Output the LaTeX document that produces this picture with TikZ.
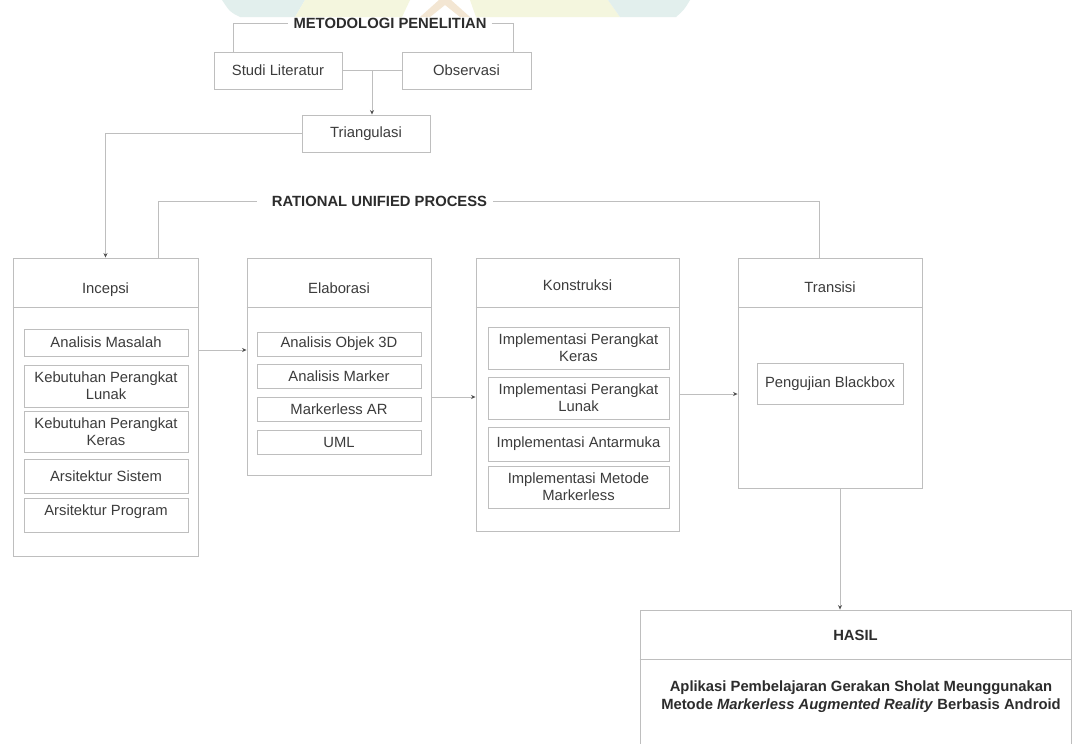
\documentclass[tikz,border=0pt]{standalone}
\usepackage{fontspec}
\setmainfont{Liberation Sans}
\usetikzlibrary{arrows.meta}
\definecolor{ln}{HTML}{BEBEBE}
\definecolor{tx}{HTML}{3C3C3C}
\definecolor{tb}{HTML}{2C2C2C}
\definecolor{arrowc}{HTML}{505050}
\definecolor{wmteal}{HTML}{E2EFED}
\definecolor{wmyel}{HTML}{F4F6DE}
\definecolor{wmora}{HTML}{F3E6D3}
\newcommand\fsz{\fontsize{14.8pt}{16.7pt}\selectfont}
\newcommand\fszb{\fontsize{14.8pt}{17.8pt}\selectfont}
\begin{document}
\begin{tikzpicture}[x=1pt,y=-1pt,
  frame/.style={draw=ln,line width=0.9pt,inner sep=0pt},
  subbox/.style={frame,font=\fsz,text=tx,align=center},
  ttl/.style={font=\fsz,text=tx,inner sep=0pt,text height=10.6pt,text depth=3pt},
  hdr/.style={font=\fsz\bfseries,text=tb,inner sep=0pt},
  conn/.style={draw=ln,line width=0.9pt},
  arrw/.style={conn,-{Stealth[length=4.5pt,width=4pt,color=arrowc]}},
]
\useasboundingbox (0,0) rectangle (1074,744);
\clip (0,0) rectangle (1074,744);
\fill[white] (0,0) rectangle (1074,744);

% faint watermark strip at the top
\begin{scope}
\clip (0,0) rectangle (1074,17);
\fill[wmteal] (222,0) -- (305,0) -- (295,17) -- (240,17) .. controls (230,12) .. (222,0) -- cycle;
\fill[wmyel] (305,0) -- (410,0) -- (402,17) -- (295,17) -- cycle;
\fill[wmora] (420,17) -- (439,0) -- (451,0) -- (470,17) -- (460,17) -- (445,5) -- (430,17) -- cycle;
\fill[wmyel] (470,0) -- (608,0) -- (620,17) -- (476,17) -- cycle;
\fill[wmteal] (608,0) -- (690,0) .. controls (684,10) .. (676,17) -- (620,17) -- cycle;
\end{scope}

% ---------- Metodologi penelitian ----------
\node[hdr] (metod) at (390,23) {METODOLOGI PENELITIAN};
\node[subbox,minimum width=128,minimum height=37] (studi) at (278,70.5) {Studi Literatur};
\node[subbox,minimum width=129,minimum height=37] (obs) at (466.5,70.5) {Observasi};
\node[subbox,minimum width=128,minimum height=37] (tri) at (366,133.5) {Triangulasi};

\coordinate (mL) at (233,23);
\coordinate (mR) at (513,23);
\draw[conn] (studi.north -| mL) -- (mL) -- ([xshift=-5pt]metod.west);
\draw[conn] ([xshift=5pt]metod.east) -- (mR) -- (obs.north -| mR);
\draw[conn] (studi.east) -- (obs.west);
\coordinate (j1) at (372,70.5);
\draw[arrw] (j1) -- (j1 |- tri.north);

% ---------- RUP phases ----------
\node[frame,minimum width=185,minimum height=298] (incepsi) at (105.5,407) {};
\node[frame,minimum width=184,minimum height=217] (elab) at (339,366.5) {};
\node[frame,minimum width=203,minimum height=273] (kons) at (577.5,394.5) {};
\node[frame,minimum width=184,minimum height=230] (trans) at (830,373) {};

\coordinate (hd) at (0,307);
\foreach \b in {incepsi,elab,kons,trans}
  \draw[conn] (\b.west |- hd) -- (\b.east |- hd);

\node[ttl] (incepsiT) at (105.5,289.5) {Incepsi};
\node[ttl] (elabT) at (339,289.5) {Elaborasi};
\node[ttl] (konsT) at (577.5,286.5) {Konstruksi};
\node[ttl] (transT) at (830,289) {Transisi};

% Incepsi items
\node[subbox,minimum width=164,minimum height=27] (i1) at (106,342.5) {Analisis Masalah};
\node[subbox,minimum width=164,minimum height=42] (i2) at (106,386) {Kebutuhan Perangkat\\Lunak};
\node[subbox,minimum width=164,minimum height=41] (i3) at (106,431.5) {Kebutuhan Perangkat\\Keras};
\node[subbox,minimum width=164,minimum height=34] (i4) at (106,476) {Arsitektur Sistem};
\node[subbox,minimum width=164,minimum height=34,text height=10.5pt,text depth=10pt] (i5) at (106,515) {Arsitektur Program};

% Elaborasi items
\node[subbox,minimum width=164,minimum height=24] (e1) at (339,344) {Analisis Objek 3D};
\node[subbox,minimum width=164,minimum height=24] (e2) at (339,376) {Analisis Marker};
\node[subbox,minimum width=164,minimum height=24] (e3) at (339,409) {Markerless AR};
\node[subbox,minimum width=164,minimum height=24] (e4) at (339,442) {UML};

% Konstruksi items
\node[subbox,minimum width=181,minimum height=42] (k1) at (578.5,348) {Implementasi Perangkat\\Keras};
\node[subbox,minimum width=181,minimum height=42] (k2) at (578.5,398) {Implementasi Perangkat\\Lunak};
\node[subbox,minimum width=181,minimum height=34] (k3) at (578.5,444) {Implementasi Antarmuka};
\node[subbox,minimum width=181,minimum height=42] (k4) at (578.5,487) {Implementasi Metode\\Markerless};

% Transisi item
\node[subbox,minimum width=146,minimum height=41] (t1) at (830,383.5) {Pengujian Blackbox};

% Triangulasi -> Incepsi
\draw[arrw] (tri.west) -| (incepsi.north);

% RUP bracket
\node[hdr] (rup) at (379.5,201) {RATIONAL UNIFIED PROCESS};
\coordinate (rA) at (158,201);
\coordinate (rB) at (257,201);
\coordinate (rC) at (493,201);
\coordinate (rD) at (819,201);
\draw[conn] (incepsi.north -| rA) -- (rA) -- (rB);
\draw[conn] (rC) -- (rD) -- (trans.north -| rD);

% phase arrows
\coordinate (y1) at (0,350);
\coordinate (y2) at (0,397);
\coordinate (y3) at (0,394);
\draw[arrw] (incepsi.east |- y1) -- (elab.west |- y1);
\draw[arrw] (elab.east |- y2) -- (kons.west |- y2);
\draw[arrw] (kons.east |- y3) -- (trans.west |- y3);

% ---------- HASIL ----------
\node[frame,minimum width=431,minimum height=170] (hasil) at (855.5,695) {};
\coordinate (hh) at (0,659);
\draw[conn] (hasil.west |- hh) -- (hasil.east |- hh);
\node[hdr] (hasilT) at (855.5,635) {HASIL};
\node[font=\fszb\bfseries,text=tb,align=center,inner sep=0pt] (hasilB) at (861,697)
  {Aplikasi Pembelajaran Gerakan Sholat Meunggunakan\\Metode \textit{Markerless Augmented Reality} Berbasis Android};
\coordinate (x1) at (840,0);
\draw[arrw] (trans.south -| x1) -- (hasil.north -| x1);
\end{tikzpicture}
\end{document}
